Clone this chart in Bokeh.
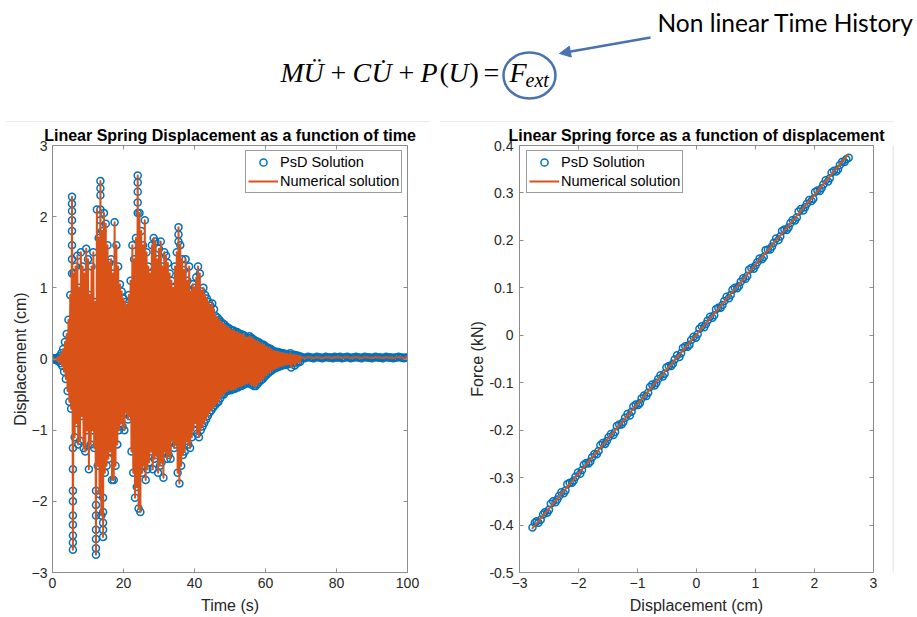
from bokeh.plotting import figure
from bokeh.layouts import column, row
from bokeh.models import (ColumnDataSource, Range1d, LinearAxis, FixedTicker,
                          Legend, LegendItem, Arrow, NormalHead,
                          CustomJSTickFormatter)
from bokeh.core.properties import value
from bokeh.embed import file_html
from bokeh.resources import INLINE

BLUE = "#0072BD"
ORANGE = "#D95319"
AXIS_GRAY = "#8c8c8c"
TEXT_DARK = "#262626"
ANNOT_BLUE = "#4a72b0"
FRAME_GRAY = "#d4d4d4"
SANS = "Liberation Sans"

# ---------------- displacement time history (cm) ----------------
# quiet start, 0 s .. 3.75 s every 0.25 s
quiet_start, quiet_step = 0.0, 0.25
disp_quiet = [0.0, 0.01, 0.0, -0.01, 0.01, -0.02, 0.02, -0.03,
              0.04, -0.06, 0.08, -0.1, 0.14, -0.18, 0.24, -0.28]

# strong motion, 4 s .. 49.75 s every 0.25 s (one row per second)
strong_start, strong_step = 4.0, 0.25
disp_strong = [
    0.35, -0.45, 0.55, -0.6,
    0.9, -0.7, 2.28, -2.68,
    1.2, -1.1, 1.3, -0.9,
    1.45, -1.2, 1.0, -1.15,
    1.5, -0.8, 1.3, -1.25,
    1.2, -1.3, 1.55, -1.0,
    1.4, -1.55, 0.9, -1.2,
    1.3, -1.0, 1.5, -1.25,
    0.8, -2.75, 2.1, -1.5,
    1.7, -1.9, 2.5, -2.2,
    1.8, -2.5, 2.05, -1.6,
    1.9, -1.5, 1.6, -1.4,
    1.35, -1.3, 1.4, -1.7,
    1.2, -1.7, 1.92, -1.5,
    1.6, -1.2, 1.3, -1.0,
    1.05, -0.9, 0.95, -0.95,
    0.85, -1.0, 0.8, -0.75,
    0.75, -0.85, 0.9, -0.8,
    1.1, -1.3, 1.6, -1.6,
    1.4, -1.95, 1.7, -1.8,
    2.58, -2.1, 2.05, -2.15,
    1.8, -1.6, 1.6, -1.5,
    1.95, -1.7, 1.5, -1.55,
    1.3, -1.45, 1.2, -1.3,
    1.6, -1.55, 1.7, -1.4,
    1.65, -1.35, 1.4, -1.6,
    1.55, -1.5, 1.65, -1.45,
    1.3, -1.67, 1.5, -1.3,
    1.45, -1.4, 1.35, -1.35,
    1.2, -1.4, 1.1, -1.15,
    1.0, -1.25, 1.3, -1.2,
    1.5, -1.6, 1.85, -1.75,
    1.6, -1.5, 1.4, -1.35,
    1.25, -1.3, 1.4, -1.15,
    1.1, -1.2, 1.3, -1.25,
    0.95, -1.1, 1.05, -1.0,
    1.0, -0.9, 1.15, -1.05,
    1.3, -1.1, 1.2, -1.0,
    0.95, -0.95, 1.0, -0.9,
    0.9, -0.85, 0.85, -0.8,
    0.8, -0.75, 0.75, -0.72,
    0.78, -0.68, 0.7, -0.65,
    0.6, -0.62, 0.58, -0.6,
    0.55, -0.55, 0.52, -0.5,
    0.5, -0.5, 0.48, -0.46,
    0.45, -0.45, 0.44, -0.42,
]

# free decay, 50 s .. 69.75 s every 0.25 s
decay_start, decay_step = 50.0, 0.25
disp_decay = [
    0.42, -0.44, 0.4, -0.42,
    0.4, -0.42, 0.38, -0.4,
    0.38, -0.4, 0.36, -0.38,
    0.35, -0.38, 0.34, -0.36,
    0.33, -0.35, 0.3, -0.34,
    0.3, -0.33, 0.32, -0.35,
    0.3, -0.36, 0.28, -0.38,
    0.26, -0.38, 0.25, -0.35,
    0.24, -0.32, 0.22, -0.3,
    0.2, -0.28, 0.2, -0.25,
    0.18, -0.22, 0.16, -0.2,
    0.15, -0.18, 0.14, -0.16,
    0.12, -0.14, 0.11, -0.13,
    0.1, -0.12, 0.1, -0.11,
    0.09, -0.1, 0.08, -0.09,
    0.08, -0.08, 0.07, -0.08,
    0.07, -0.07, 0.06, -0.07,
    0.08, -0.12, 0.05, -0.06,
    0.06, -0.09, 0.05, -0.05,
    0.05, -0.05, 0.04, -0.04,
]

# at rest, 70 s .. 100 s every 0.5 s
rest_start, rest_step = 70.0, 0.5
disp_rest = [0.03, 0.02, 0.01, 0.02, 0.03, 0.02, 0.02, 0.01, 0.02, 0.03,
             0.02, 0.02, 0.01, 0.02, 0.03, 0.02, 0.02, 0.02, 0.01, 0.03,
             0.02, 0.02, 0.03, 0.01, 0.02, 0.02, 0.03, 0.02, 0.01, 0.02,
             0.02, 0.03, 0.02, 0.02, 0.01, 0.02, 0.03, 0.02, 0.02, 0.02,
             0.01, 0.02, 0.03, 0.02, 0.02, 0.02, 0.01, 0.02, 0.03, 0.02,
             0.02, 0.02, 0.01, 0.02, 0.02, 0.03, 0.02, 0.02, 0.01, 0.02,
             0.02]

# additional PsD samples on the steep flanks of the largest cycles
psd_flank_time = [5.5] * 7 + [5.75] * 8 + [12.25] * 6 + [13.5] * 5 + \
                 [14.25] * 4 + [24.0] * 4 + [35.5] * 2
psd_flank_disp = [2.18, 2.08, 1.95, 1.8, 1.6, 1.4, 1.2,
                  -2.58, -2.48, -2.33, -2.2, -2.0, -1.85, -1.55, -1.25,
                  -2.66, -2.53, -2.4, -2.2, -2.05, -1.85,
                  2.4, 2.3, 2.1, 1.95, 1.75,
                  -2.4, -2.3, -2.15, -1.95,
                  2.48, 2.35, 2.2, 2.05,
                  1.75, 1.65]

# ---------------- spring force vs displacement ----------------
fd_disp_a = [-2.78, -2.71, -2.64, -2.57, -2.50, -2.43, -2.36, -2.29, -2.22, -2.15,
             -2.08, -2.01, -1.94, -1.87, -1.80, -1.73, -1.66, -1.59, -1.52, -1.45,
             -1.38, -1.31, -1.24, -1.17, -1.10, -1.03, -0.96, -0.89, -0.82, -0.75,
             -0.68, -0.61, -0.54, -0.47, -0.40, -0.33, -0.26, -0.19, -0.12, -0.05,
             0.02, 0.09, 0.16, 0.23, 0.30, 0.37, 0.44, 0.51, 0.58, 0.65,
             0.72, 0.79, 0.86, 0.93, 1.00, 1.07, 1.14, 1.21, 1.28, 1.35,
             1.42, 1.49, 1.56, 1.63, 1.70, 1.77, 1.84, 1.91, 1.98, 2.05,
             2.12, 2.19, 2.26, 2.33, 2.40, 2.47, 2.54, 2.58]
fd_force_a = [-0.405, -0.392, -0.389, -0.373, -0.368, -0.350, -0.346, -0.331, -0.327, -0.311,
              -0.306, -0.289, -0.284, -0.269, -0.266, -0.250, -0.244, -0.227, -0.223, -0.208,
              -0.204, -0.188, -0.183, -0.166, -0.161, -0.146, -0.143, -0.127, -0.121, -0.104,
              -0.100, -0.084, -0.081, -0.065, -0.060, -0.042, -0.038, -0.023, -0.020, -0.003,
              0.002, 0.019, 0.024, 0.039, 0.042, 0.058, 0.064, 0.081, 0.085, 0.100,
              0.104, 0.120, 0.125, 0.142, 0.147, 0.162, 0.165, 0.181, 0.187, 0.204,
              0.208, 0.223, 0.227, 0.243, 0.248, 0.266, 0.270, 0.285, 0.288, 0.305,
              0.310, 0.327, 0.331, 0.347, 0.350, 0.366, 0.371, 0.374]
fd_disp_b = [-2.74, -2.68, -2.60, -2.53, -2.47, -2.39, -2.33, -2.25, -2.19, -2.11,
             -2.05, -1.97, -1.91, -1.83, -1.77, -1.69, -1.63, -1.55, -1.49, -1.41,
             -1.35, -1.27, -1.21, -1.13, -1.07, -0.99, -0.93, -0.85, -0.79, -0.71,
             -0.65, -0.57, -0.51, -0.43, -0.37, -0.29, -0.23, -0.15, -0.09, -0.01,
             0.05, 0.13, 0.19, 0.27, 0.33, 0.41, 0.47, 0.55, 0.61, 0.69,
             0.75, 0.83, 0.89, 0.97, 1.03, 1.11, 1.17, 1.25, 1.31, 1.39,
             1.45, 1.53, 1.59, 1.67, 1.73, 1.81, 1.87, 1.95, 2.01, 2.09,
             2.15, 2.23, 2.29, 2.37, 2.43, 2.51]
fd_force_b = [-0.395, -0.395, -0.378, -0.374, -0.355, -0.352, -0.339, -0.333, -0.314, -0.311,
              -0.298, -0.292, -0.273, -0.270, -0.257, -0.251, -0.232, -0.229, -0.215, -0.210,
              -0.191, -0.188, -0.174, -0.169, -0.150, -0.147, -0.133, -0.128, -0.109, -0.106,
              -0.092, -0.087, -0.068, -0.065, -0.051, -0.046, -0.027, -0.024, -0.010, -0.005,
              0.014, 0.017, 0.031, 0.037, 0.055, 0.058, 0.072, 0.078, 0.096, 0.099,
              0.113, 0.119, 0.138, 0.140, 0.154, 0.160, 0.179, 0.181, 0.195, 0.201,
              0.220, 0.222, 0.236, 0.242, 0.261, 0.263, 0.277, 0.283, 0.302, 0.304,
              0.318, 0.324, 0.343, 0.345, 0.359, 0.365]
num_fd_disp = [-2.79, -1.5, 0.0, 1.5, 2.57]
num_fd_force = [-0.408, -0.218, 0.002, 0.222, 0.381]

# tick positions
time_ticks = [0, 20, 40, 60, 80, 100]
disp_ticks = [-3, -2, -1, 0, 1, 2, 3]
fd_x_ticks = [-3, -2, -1, 0, 1, 2, 3]
force_ticks = [-0.5, -0.4, -0.3, -0.2, -0.1, 0.0, 0.1, 0.2, 0.3, 0.4]


def sample_times(start, step, n):
    return [start + step * i for i in range(n)]


time_all = (sample_times(quiet_start, quiet_step, len(disp_quiet))
            + sample_times(strong_start, strong_step, len(disp_strong))
            + sample_times(decay_start, decay_step, len(disp_decay))
            + sample_times(rest_start, rest_step, len(disp_rest)))
disp_all = disp_quiet + disp_strong + disp_decay + disp_rest


def style_axis(ax, ticks, labels=True, label=None, label_standoff=4,
               tick_standoff=5, formatter=None):
    ax.ticker = FixedTicker(ticks=ticks)
    ax.major_tick_in = 4
    ax.major_tick_out = 0
    ax.minor_tick_line_color = None
    ax.axis_line_color = AXIS_GRAY
    ax.major_tick_line_color = AXIS_GRAY
    ax.major_label_text_font = SANS
    ax.major_label_text_font_size = "14px"
    ax.major_label_text_color = TEXT_DARK
    ax.major_label_standoff = tick_standoff
    if formatter is not None:
        ax.formatter = formatter
    if not labels:
        # mirrored box edge: tick marks only
        ax.major_label_text_color = None
        ax.major_label_text_font_size = "1px"
        ax.major_label_standoff = 0
    if label:
        ax.axis_label = label
        ax.axis_label_text_font = SANS
        ax.axis_label_text_font_size = "16px"
        ax.axis_label_text_font_style = "normal"
        ax.axis_label_text_color = TEXT_DARK
        ax.axis_label_standoff = label_standoff


def make_panel(width, x_range, y_range, border_left, border_right, title):
    p = figure(width=width, height=495, x_range=x_range, y_range=y_range,
               output_backend="svg", toolbar_location=None,
               min_border_left=border_left, min_border_right=border_right,
               min_border_top=22, min_border_bottom=45)
    p.grid.visible = False
    p.outline_line_color = None
    p.title.text = title
    p.title.align = "center"
    p.title.text_font = SANS
    p.title.text_font_size = "16px"
    p.title.text_font_style = "bold"
    p.title.text_color = "#000000"
    p.title.standoff = 4
    return p


def style_legend(p, items, loc):
    leg = Legend(items=items, location=loc)
    leg.border_line_color = "#3c3c3c"
    leg.border_line_width = 1
    leg.background_fill_color = "white"
    leg.background_fill_alpha = 1.0
    leg.label_text_font = SANS
    leg.label_text_font_size = "14.5px"
    leg.label_text_color = "#000000"
    leg.glyph_width = 30
    leg.glyph_height = 18
    leg.label_height = 18
    leg.label_standoff = 2
    leg.spacing = 1
    leg.padding = 2
    leg.margin = 0
    p.add_layout(leg)


# ---------------- left panel: displacement vs time ----------------
left = make_panel(440, Range1d(0, 100), Range1d(-3, 3), 52, 33,
                  "Linear Spring Displacement as a function of time")
ts_src = ColumnDataSource(dict(t=time_all, d=disp_all))
flank_src = ColumnDataSource(dict(t=psd_flank_time, d=psd_flank_disp))
r_psd = left.scatter("t", "d", source=ts_src, marker="circle", size=7,
                     fill_color=None, line_color=BLUE, line_width=1.5)
left.scatter("t", "d", source=flank_src, marker="circle", size=7,
             fill_color=None, line_color=BLUE, line_width=1.5)
r_num = left.line("t", "d", source=ts_src, line_color=ORANGE, line_width=2,
                  line_join="round")

style_axis(left.xaxis[0], time_ticks, label="Time (s)", label_standoff=6)
style_axis(left.yaxis[0], disp_ticks, label="Displacement (cm)", label_standoff=0)
top_ax_l = LinearAxis()
right_ax_l = LinearAxis()
style_axis(top_ax_l, time_ticks, labels=False)
style_axis(right_ax_l, disp_ticks, labels=False)
left.add_layout(top_ax_l, "above")
left.add_layout(right_ax_l, "right")
style_legend(left, [LegendItem(label="PsD Solution", renderers=[r_psd]),
                    LegendItem(label="Numerical solution", renderers=[r_num])],
             (193, 379))

# ---------------- right panel: force vs displacement ----------------
right = make_panel(452, Range1d(-3, 3), Range1d(-0.5, 0.4), 79, 19,
                   "Linear Spring force as a function of displacement")
fd_src = ColumnDataSource(dict(d=fd_disp_a + fd_disp_b, f=fd_force_a + fd_force_b))
num_src = ColumnDataSource(dict(d=num_fd_disp, f=num_fd_force))
r_psd2 = right.scatter("d", "f", source=fd_src, marker="circle", size=7,
                       fill_color=None, line_color=BLUE, line_width=1.5)
r_num2 = right.line("d", "f", source=num_src, line_color=ORANGE, line_width=2)

force_fmt = CustomJSTickFormatter(
    code="return Math.abs(tick) < 1e-9 ? '0' : tick.toFixed(1);")
style_axis(right.xaxis[0], fd_x_ticks, label="Displacement (cm)", label_standoff=6)
style_axis(right.yaxis[0], force_ticks, label="Force (kN)", label_standoff=0,
           tick_standoff=6, formatter=force_fmt)
top_ax_r = LinearAxis()
right_ax_r = LinearAxis()
style_axis(top_ax_r, fd_x_ticks, labels=False)
style_axis(right_ax_r, force_ticks, labels=False)
right.add_layout(top_ax_r, "above")
right.add_layout(right_ax_r, "right")
style_legend(right, [LegendItem(label="PsD Solution", renderers=[r_psd2]),
                     LegendItem(label="Numerical solution", renderers=[r_num2])],
             (7, 379))

# thin strip carrying the right edge of the figure frame
strip = figure(width=25, height=495, x_range=Range1d(0, 25), y_range=Range1d(0, 495),
               output_backend="svg", toolbar_location=None, title=None,
               x_axis_type=None, y_axis_type=None, min_border=0)
strip.grid.visible = False
strip.outline_line_color = None
strip.segment(x0=[0.5], y0=[0], x1=[0.5], y1=[495], line_color=FRAME_GRAY, line_width=1)

# ---------------- header: equation of motion ----------------
top = figure(width=917, height=122, x_range=Range1d(0, 917), y_range=Range1d(122, 0),
             output_backend="svg", toolbar_location=None, title=None,
             x_axis_type=None, y_axis_type=None, min_border=0)
top.grid.visible = False
top.outline_line_color = None

eq_src = ColumnDataSource(dict(
    x=[280, 303, 330, 352, 371, 398, 420, 439, 448, 469, 483, 509, 525],
    y=[72, 72, 72, 72, 72, 72, 72, 72, 72, 72, 72, 72, 79],
    text=["M", "Ü", "+", "C", "U\u0307", "+", "P", "(", "U", ")", "=", "F", "ext"],
    style=["italic", "italic", "normal", "italic", "italic", "normal", "italic",
           "normal", "italic", "normal", "normal", "italic", "italic"],
    size=["28px"] * 12 + ["20px"],
))
top.text(x="x", y="y", text="text", source=eq_src, text_font_style="style",
         text_font_size="size", text_font=value("Liberation Serif"),
         text_baseline="alphabetic", text_align="left", text_color="#000000")

top.text(x=[657], y=[22], text=["Non linear Time History"],
         text_font_size=value("24.5px"), text_font=value("Lato"),
         text_baseline="alphabetic", text_color="#000000")

top.ellipse(x=[529], y=[75], width=[52], height=[46], fill_color=None,
            line_color=ANNOT_BLUE, line_width=2.5)
top.add_layout(Arrow(x_start=650, y_start=37, x_end=559, y_end=53,
                     line_color=ANNOT_BLUE, line_width=2.5,
                     end=NormalHead(size=11, fill_color=ANNOT_BLUE,
                                    line_color=ANNOT_BLUE)))
top.segment(x0=[6, 440], y0=[121.5, 121.5], x1=[430, 892.5], y1=[121.5, 121.5],
            line_color=FRAME_GRAY, line_width=1)

page = column(top, row(left, right, strip))
open("out.html", "w").write(file_html(page, INLINE))
